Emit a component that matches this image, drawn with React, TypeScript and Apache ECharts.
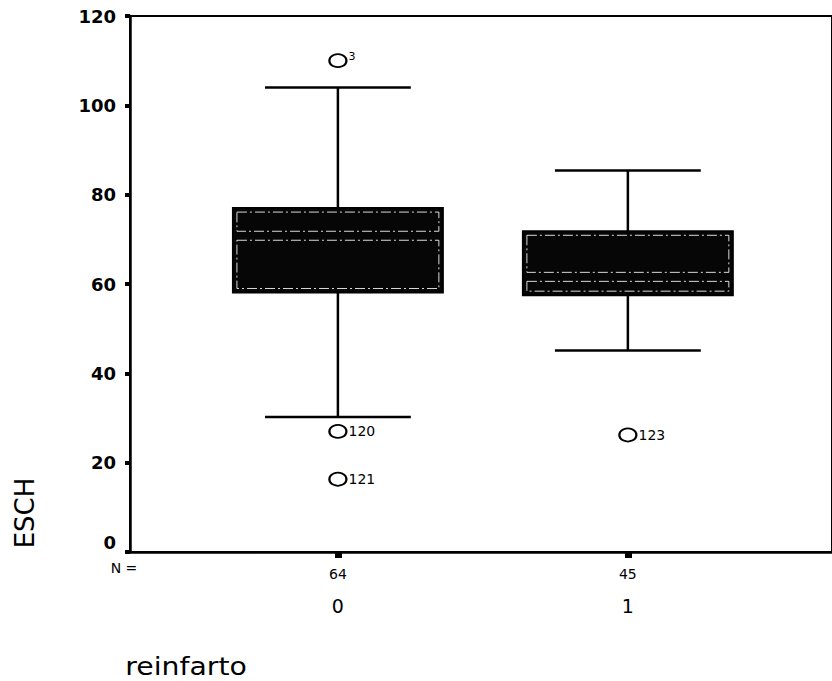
import React, { useEffect, useRef } from "react";
import * as echarts from "echarts";

// ---- data ----
const categories = ["0", "1"];
const counts = [64, 45];
const whiskerLow = [30.2, 45.1];
const q1 = [58.1, 57.5];
const medians = [70.8, 61.6];
const q3 = [77.0, 71.8];
const whiskerHigh = [104.0, 85.4];
const outlierGroup = [0, 0, 0, 1];
const outlierValues = [110.0, 27.0, 16.3, 26.2];
const outlierCases = ["3", "120", "121", "123"];
const yMin = 0;
const yMax = 120;
const yStep = 20;

const FONT = "DejaVu Sans";
const BOX_WIDTH = 0.724;
const CAP_WIDTH = 0.503;

export default function App() {
  const ref = useRef<HTMLDivElement>(null);

  useEffect(() => {
    if (!ref.current) return;
    const chart = echarts.init(ref.current, undefined, { renderer: "svg" });

    const boxData = categories.map((_, i) => [
      i + 1,
      whiskerLow[i],
      q1[i],
      medians[i],
      q3[i],
      whiskerHigh[i],
    ]);

    const outlierData = outlierValues.map((v, k) => {
      const g = outlierGroup[k];
      const above = v > whiskerHigh[g];
      return {
        value: [g + 1, v],
        label: {
          formatter: outlierCases[k],
          ...(above ? { fontSize: 11, offset: [0, -4] } : {}),
        },
      };
    });

    const renderItem = (params: any, api: any) => {
      const x = api.value(0);
      const cx = api.coord([x, api.value(1)])[0];
      const yLow = api.coord([x, api.value(1)])[1];
      const yQ1 = api.coord([x, api.value(2)])[1];
      const yMed = api.coord([x, api.value(3)])[1];
      const yQ3 = api.coord([x, api.value(4)])[1];
      const yHigh = api.coord([x, api.value(5)])[1];
      const boxW = api.size([BOX_WIDTH, 0])[0];
      const capW = api.size([CAP_WIDTH, 0])[0];
      const left = cx - boxW / 2;
      const lineStyle = { stroke: "#000", lineWidth: 2.5 };
      const innerStyle = {
        fill: "none",
        stroke: "#fff",
        lineWidth: 1,
        lineDash: [10, 3, 2, 3],
        opacity: 0.85,
      };
      return {
        type: "group",
        children: [
          { type: "line", shape: { x1: cx, y1: yHigh, x2: cx, y2: yQ3 }, style: lineStyle },
          { type: "line", shape: { x1: cx, y1: yQ1, x2: cx, y2: yLow }, style: lineStyle },
          {
            type: "line",
            shape: { x1: cx - capW / 2, y1: yHigh, x2: cx + capW / 2, y2: yHigh },
            style: lineStyle,
          },
          {
            type: "line",
            shape: { x1: cx - capW / 2, y1: yLow, x2: cx + capW / 2, y2: yLow },
            style: lineStyle,
          },
          {
            type: "rect",
            shape: { x: left, y: yQ3, width: boxW, height: yQ1 - yQ3 },
            style: { fill: "#060606", stroke: "#000", lineWidth: 2 },
          },
          {
            type: "rect",
            shape: { x: left + 4, y: yQ3 + 4, width: boxW - 8, height: Math.max(0, yMed - yQ3 - 8.5) },
            style: innerStyle,
          },
          {
            type: "rect",
            shape: { x: left + 4, y: yMed + 4.5, width: boxW - 8, height: Math.max(0, yQ1 - yMed - 8.5) },
            style: innerStyle,
          },
        ],
      };
    };

    chart.setOption({
      animation: false,
      backgroundColor: "#fff",
      textStyle: { fontFamily: FONT, color: "#000" },
      grid: {
        left: 130,
        top: 16,
        width: 702,
        height: 536,
        show: true,
        borderColor: "#000",
        borderWidth: 2,
        backgroundColor: "transparent",
      },
      xAxis: {
        type: "value",
        min: 0.283,
        max: 2.704,
        axisLine: { show: true, onZero: false, lineStyle: { color: "#000", width: 2.5 } },
        axisTick: {
          show: true,
          customValues: [1, 2],
          length: 6,
          lineStyle: { color: "#000", width: 7 },
        },
        splitLine: { show: false },
        axisLabel: {
          show: true,
          customValues: [1, 2],
          margin: 8,
          color: "#000",
          fontFamily: FONT,
          formatter: (v: number) => {
            const i = Math.round(v) - 1;
            return `{n|${counts[i]}}\n{c|${categories[i]}}`;
          },
          rich: {
            n: { fontSize: 14, lineHeight: 28, fontFamily: FONT, color: "#000" },
            c: { fontSize: 19, lineHeight: 36, fontFamily: FONT, color: "#000" },
          },
        },
      },
      yAxis: {
        type: "value",
        min: yMin,
        max: yMax,
        interval: yStep,
        axisLine: { show: true, lineStyle: { color: "#000", width: 2.5 } },
        axisTick: { show: true, length: 5, lineStyle: { color: "#000", width: 4 } },
        splitLine: { show: false },
        axisLabel: {
          margin: 14,
          color: "#000",
          fontSize: 18,
          fontWeight: "bold",
          fontFamily: FONT,
          formatter: (v: number) => (v === 0 ? "{z|0}" : String(v)),
          rich: {
            z: {
              fontSize: 18,
              fontWeight: "bold",
              fontFamily: FONT,
              color: "#000",
              padding: [0, 0, 20, 0],
            },
          },
        },
      },
      series: [
        {
          type: "custom",
          renderItem,
          data: boxData,
          encode: { x: 0, y: [1, 2, 3, 4, 5] },
          clip: false,
          z: 2,
        },
        {
          type: "scatter",
          data: outlierData,
          symbol: "circle",
          symbolSize: [17, 13],
          itemStyle: { color: "#fff", borderColor: "#000", borderWidth: 2, opacity: 1 },
          label: {
            show: true,
            position: "right",
            distance: 1,
            color: "#000",
            fontSize: 14,
            fontFamily: FONT,
          },
          z: 3,
        },
      ],
      graphic: [
        {
          type: "text",
          x: 124,
          y: 568,
          style: {
            text: "N =",
            fontSize: 14,
            fontFamily: FONT,
            fill: "#000",
            align: "center",
            verticalAlign: "middle",
          },
        },
        {
          type: "text",
          x: 25,
          y: 513,
          rotation: Math.PI / 2,
          style: {
            text: "ESCH",
            fontSize: 26,
            fontFamily: FONT,
            fill: "#000",
            align: "center",
            verticalAlign: "middle",
          },
        },
        {
          type: "text",
          x: 186,
          y: 667,
          scaleX: 1.18,
          style: {
            text: "reinfarto",
            fontSize: 24,
            fontFamily: FONT,
            fill: "#000",
            align: "center",
            verticalAlign: "middle",
          },
        },
      ],
    });

    return () => chart.dispose();
  }, []);

  return (
    <div
      ref={ref}
      style={{ position: "fixed", left: 0, top: 0, width: 832, height: 681, background: "#fff" }}
    />
  );
}
